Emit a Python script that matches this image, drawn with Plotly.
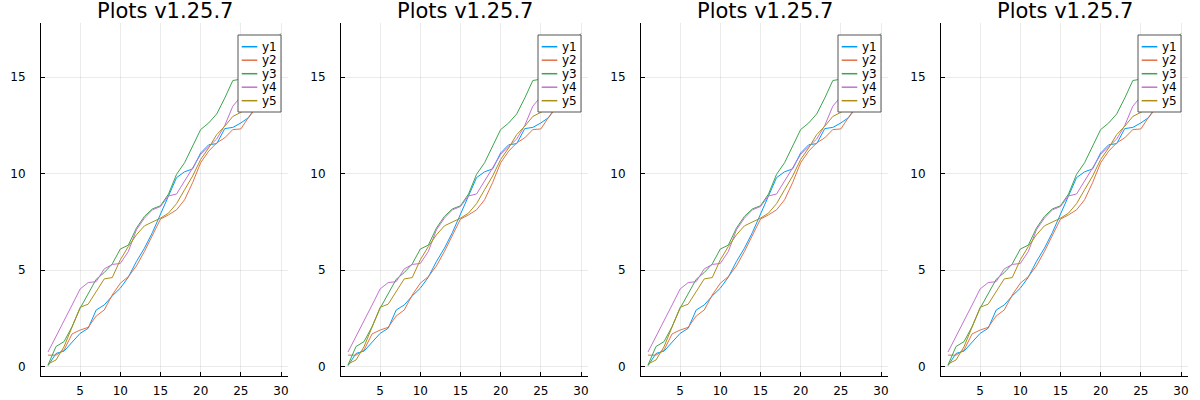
import plotly.graph_objects as go

# ---- data ----
x = list(range(1, 31))
y1 = [0.05, 0.69, 0.81, 1.30, 1.73, 1.99, 2.94, 3.20, 3.67, 4.07, 4.64, 5.45, 6.14, 6.96, 7.87,
      8.85, 9.80, 10.10, 10.25, 11.08, 11.50, 11.56, 12.34, 12.40, 12.63, 12.92, 13.60, 14.30, 15.00, 15.86]
y2 = [0.60, 0.60, 0.87, 1.70, 1.90, 2.04, 2.63, 2.94, 3.72, 4.33, 4.67, 5.22, 5.97, 6.83, 7.65,
      7.87, 8.13, 8.65, 9.54, 10.57, 11.17, 11.60, 11.86, 12.29, 12.32, 12.95, 13.40, 13.90, 14.40, 14.90]
y3 = [0.09, 1.05, 1.30, 2.08, 3.03, 3.80, 4.53, 4.88, 5.33, 6.10, 6.30, 7.18, 7.79, 8.18, 8.34,
      8.95, 9.97, 10.57, 11.43, 12.29, 12.63, 13.10, 13.92, 14.83, 14.90, 15.40, 15.90, 16.40, 16.80, 17.27]
y4 = [0.76, 1.55, 2.35, 3.20, 4.03, 4.36, 4.41, 5.07, 5.30, 5.35, 5.97, 7.09, 7.70, 8.13, 8.30,
      8.85, 8.95, 9.60, 10.30, 11.00, 11.40, 11.80, 12.50, 13.50, 14.00, 14.40, 14.90, 15.30, 15.70, 16.10]
y5 = [0.14, 0.35, 1.04, 2.08, 3.08, 3.24, 3.90, 4.55, 4.62, 5.54, 6.23, 6.83, 7.30, 7.49, 7.70,
      7.96, 8.45, 9.17, 9.88, 10.74, 11.34, 12.03, 12.46, 12.97, 13.18, 13.50, 14.00, 14.50, 15.00, 15.46]
series = [("y1", y1), ("y2", y2), ("y3", y3), ("y4", y4), ("y5", y5)]
colors = ["#009AFA", "#E36F47", "#3EA44E", "#C371D2", "#AC8E18"]
title_text = "Plots v1.25.7"
xticks = [5, 10, 15, 20, 25, 30]
yticks = [0, 5, 10, 15]

W, H = 1200, 400
FONT = "DejaVu Sans"

def px(v):
    return v / W

def py(v):
    return 1 - v / H

fig = go.Figure()
layout = dict(
    width=W, height=H, margin=dict(l=0, r=0, t=0, b=0),
    paper_bgcolor="white", plot_bgcolor="white", showlegend=False,
    font=dict(family=FONT, color="#000"),
)
shapes = []
annotations = []

for k in range(4):
    off = 300 * k
    xa = "xaxis" if k == 0 else f"xaxis{k+1}"
    ya = "yaxis" if k == 0 else f"yaxis{k+1}"
    xr = "x" if k == 0 else f"x{k+1}"
    yr = "y" if k == 0 else f"y{k+1}"
    for (name, ys), c in zip(series, colors):
        fig.add_trace(go.Scatter(x=x, y=ys, mode="lines", name=name,
                                 line=dict(color=c, width=1), xaxis=xr, yaxis=yr,
                                 showlegend=False))
    common = dict(showline=True, linecolor="#000", linewidth=1, mirror=False,
                  ticks="inside", ticklen=4, tickcolor="#000", tickwidth=1,
                  showgrid=True, gridcolor="rgba(0,0,0,0.08)", gridwidth=0.5,
                  zeroline=False, tickfont=dict(family=FONT, size=12, color="#000"))
    layout[xa] = dict(domain=[px(41 + off), px(288 + off)], anchor=yr,
                      range=[0.13, 30.87], tickvals=xticks, ticklabelstandoff=4,
                      **common)
    layout[ya] = dict(domain=[py(375.8), py(23.4)], anchor=xr,
                      range=[-0.47, 17.79], tickvals=yticks, ticklabelstandoff=12,
                      **common)
    # title
    annotations.append(dict(text=title_text, x=px(164.5 + off), y=py(11), xref="paper", yref="paper",
                            xanchor="center", yanchor="middle", showarrow=False,
                            font=dict(family=FONT, size=21, color="#000")))
    # legend box
    shapes.append(dict(type="rect", xref="paper", yref="paper",
                       x0=px(238 + off), x1=px(281 + off), y0=py(112), y1=py(35),
                       line=dict(color="#555", width=1), fillcolor="white", layer="above"))
    for i, ((name, _), c) in enumerate(zip(series, colors)):
        yy = 46.7 + i * 13.5
        shapes.append(dict(type="line", xref="paper", yref="paper",
                           x0=px(241.7 + off), x1=px(257.3 + off), y0=py(yy), y1=py(yy),
                           line=dict(color=c, width=1.5), layer="above"))
        annotations.append(dict(text=name, x=px(259.5 + off), y=py(yy), xref="paper", yref="paper",
                                xanchor="left", yanchor="middle", showarrow=False,
                                font=dict(family=FONT, size=12, color="#000")))

layout["shapes"] = shapes
layout["annotations"] = annotations
fig.update_layout(**layout)
fig.write_html("out.html", config={"displayModeBar": False},
               post_script="document.body.style.margin='0px';document.body.style.overflow='hidden';")
